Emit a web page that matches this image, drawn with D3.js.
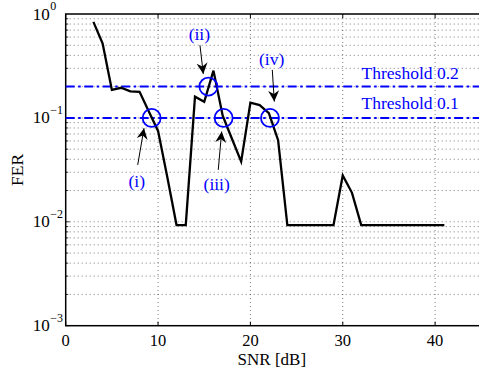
<!DOCTYPE html>
<html>
<head>
<meta charset="utf-8">
<script src="https://cdn.jsdelivr.net/npm/d3@7"></script>
<style>
  body { margin: 0; background: #fff; }
  svg { display: block; font-family: "Liberation Serif", "Times New Roman", serif; }
</style>
</head>
<body>
<svg id="chart"></svg>
<script>
// FER vs SNR curve
const snr = [3, 4, 5, 6, 7, 8, 9, 10, 11, 12, 13, 14, 15, 16, 17, 18, 19, 20, 21, 22, 23, 24,
  25, 26, 27, 28, 29, 30, 31, 32, 33, 34, 35, 36, 37, 38, 39, 40, 41];
const fer = [0.84, 0.52, 0.186, 0.195, 0.18, 0.178, 0.115, 0.075, 0.027, 0.0093, 0.0093, 0.16, 0.143,
  0.285, 0.105, 0.063, 0.038, 0.14, 0.133, 0.111, 0.061, 0.0093,
  0.0093, 0.0093, 0.0093, 0.0093, 0.0093, 0.028, 0.019, 0.0093, 0.0093, 0.0093, 0.0093, 0.0093,
  0.0093, 0.0093, 0.0093, 0.0093, 0.0093];

const thresholds = [0.2, 0.1];
const thresholdLabels = ['Threshold 0.2', 'Threshold 0.1'];
const thresholdLabelX = [37.3, 37.3];
const thresholdLabelY = [0.237, 0.122];

// annotations: circles, labels and arrows (data units)
const markLabels = ['(i)', '(ii)', '(iii)', '(iv)'];
const circleX = [9.31, 15.45, 17.1, 22.12];
const circleY = [0.1, 0.2, 0.1, 0.1];
const labelX = [7.69, 14.47, 16.35, 22.3];
const labelY = [0.0244, 0.64, 0.0227, 0.367];
const arrowFromX = [7.8, 14.54, 16.52, 22.37];
const arrowFromY = [0.0353, 0.5, 0.0316, 0.29];
const arrowToX = [8.48, 14.9, 16.89, 22.59];
const arrowToY = [0.0796, 0.265, 0.0738, 0.1435];

const xTicks = [0, 10, 20, 30, 40];
const yDecades = [-3, -2, -1, 0];

const W = 479, H = 371;
const plotLeft = 65.7, plotTop = 14, plotBottom = 325.7;

const svg = d3.select('#chart').attr('width', W).attr('height', H);

const x = d3.scaleLinear().domain([0, 45]).range([plotLeft, plotLeft + 45 * 9.235]);
const y = d3.scaleLog().domain([1e-3, 1]).range([plotBottom, plotTop]);

// grid
const minor = [];
yDecades.slice(0, -1).forEach(d => {
  for (let m = 1; m < 10; m++) minor.push(m * Math.pow(10, d));
});
const grid = svg.append('g').attr('stroke', '#444').attr('stroke-width', 0.7)
  .attr('stroke-dasharray', '1,3');
grid.selectAll('line.h')
  .data(minor.filter(v => v > 1e-3))
  .enter().append('line')
  .attr('x1', x(0)).attr('x2', x(45))
  .attr('y1', d => y(d)).attr('y2', d => y(d));
grid.selectAll('line.v')
  .data(xTicks.filter(v => v > 0))
  .enter().append('line')
  .attr('x1', d => x(d)).attr('x2', d => x(d))
  .attr('y1', plotTop).attr('y2', plotBottom);

// axes box + ticks
const axis = svg.append('g').attr('stroke', '#000').attr('fill', 'none');
axis.append('rect')
  .attr('x', x(0)).attr('y', plotTop)
  .attr('width', x(45) - x(0)).attr('height', plotBottom - plotTop)
  .attr('stroke-width', 1.5);
xTicks.forEach(t => {
  axis.append('line').attr('x1', x(t)).attr('x2', x(t)).attr('y1', plotBottom).attr('y2', plotBottom - 4);
  axis.append('line').attr('x1', x(t)).attr('x2', x(t)).attr('y1', plotTop).attr('y2', plotTop + 4);
});
minor.forEach(v => {
  const isMajor = Math.abs(Math.log10(v) - Math.round(Math.log10(v))) < 1e-9;
  axis.append('line').attr('x1', x(0)).attr('x2', x(0) + (isMajor ? 4 : 2.5))
    .attr('y1', y(v)).attr('y2', y(v)).attr('stroke-width', 0.8);
});

// tick labels
const lab = svg.append('g').attr('fill', '#000');
xTicks.forEach(t => {
  lab.append('text').attr('x', x(t)).attr('y', plotBottom + 20)
    .attr('text-anchor', 'middle').attr('font-size', 16.5).text(t);
});
yDecades.forEach(d => {
  const yy = y(Math.pow(10, d));
  lab.append('text').attr('x', plotLeft - 16).attr('y', yy + 5.5)
    .attr('text-anchor', 'end').attr('font-size', 17).text('10');
  lab.append('text').attr('x', plotLeft - 15.5).attr('y', yy - 4)
    .attr('font-size', 12).text(d === 0 ? '0' : '\u2212' + Math.abs(d));
});

lab.append('text').attr('x', (x(0) + 479) / 2 - 0.5).attr('y', 365)
  .attr('text-anchor', 'middle').attr('font-size', 17).text('SNR [dB]');
lab.append('text')
  .attr('transform', `translate(${23},${(plotTop + plotBottom) / 2}) rotate(-90)`)
  .attr('text-anchor', 'middle').attr('font-size', 17.5).text('FER');

// threshold lines
svg.append('g').selectAll('line')
  .data(thresholds).enter().append('line')
  .attr('x1', x(0)).attr('x2', x(45))
  .attr('y1', d => y(d)).attr('y2', d => y(d))
  .attr('stroke', '#0000ff').attr('stroke-width', 2)
  .attr('stroke-dasharray', '9,3.5,2.5,3.5');

svg.append('g').selectAll('text')
  .data(thresholdLabels).enter().append('text')
  .attr('x', (d, i) => x(thresholdLabelX[i]))
  .attr('y', (d, i) => y(thresholdLabelY[i]))
  .attr('text-anchor', 'middle').attr('font-size', 17.5)
  .attr('fill', '#0000ff').text(d => d);

// FER curve
const line = d3.line()
  .x((d, i) => x(snr[i]))
  .y(d => y(d));
svg.append('path')
  .attr('d', line(fer))
  .attr('fill', 'none').attr('stroke', '#000')
  .attr('stroke-width', 2.3).attr('stroke-linejoin', 'miter');

// circles
svg.append('g').selectAll('circle')
  .data(markLabels).enter().append('circle')
  .attr('cx', (d, i) => x(circleX[i]))
  .attr('cy', (d, i) => y(circleY[i]))
  .attr('r', 9)
  .attr('fill', 'none').attr('stroke', '#0000ff').attr('stroke-width', 1.8);

// arrows
svg.append('defs').append('marker')
  .attr('id', 'head')
  .attr('markerUnits', 'userSpaceOnUse')
  .attr('markerWidth', 14).attr('markerHeight', 14)
  .attr('refX', 11).attr('refY', 6)
  .attr('orient', 'auto')
  .append('path')
  .attr('d', 'M0,0.5 L11,6 L0,11.5 L3.5,6 Z')
  .attr('fill', '#000');

svg.append('g').selectAll('line')
  .data(markLabels).enter().append('line')
  .attr('x1', (d, i) => x(arrowFromX[i]))
  .attr('y1', (d, i) => y(arrowFromY[i]))
  .attr('x2', (d, i) => x(arrowToX[i]))
  .attr('y2', (d, i) => y(arrowToY[i]))
  .attr('stroke', '#000').attr('stroke-width', 1)
  .attr('marker-end', 'url(#head)');

svg.append('g').selectAll('text')
  .data(markLabels).enter().append('text')
  .attr('x', (d, i) => x(labelX[i]))
  .attr('y', (d, i) => y(labelY[i]) + 5.5)
  .attr('text-anchor', 'middle').attr('font-size', 17.5)
  .attr('fill', '#0000ff').text(d => d);
</script>
</body>
</html>
